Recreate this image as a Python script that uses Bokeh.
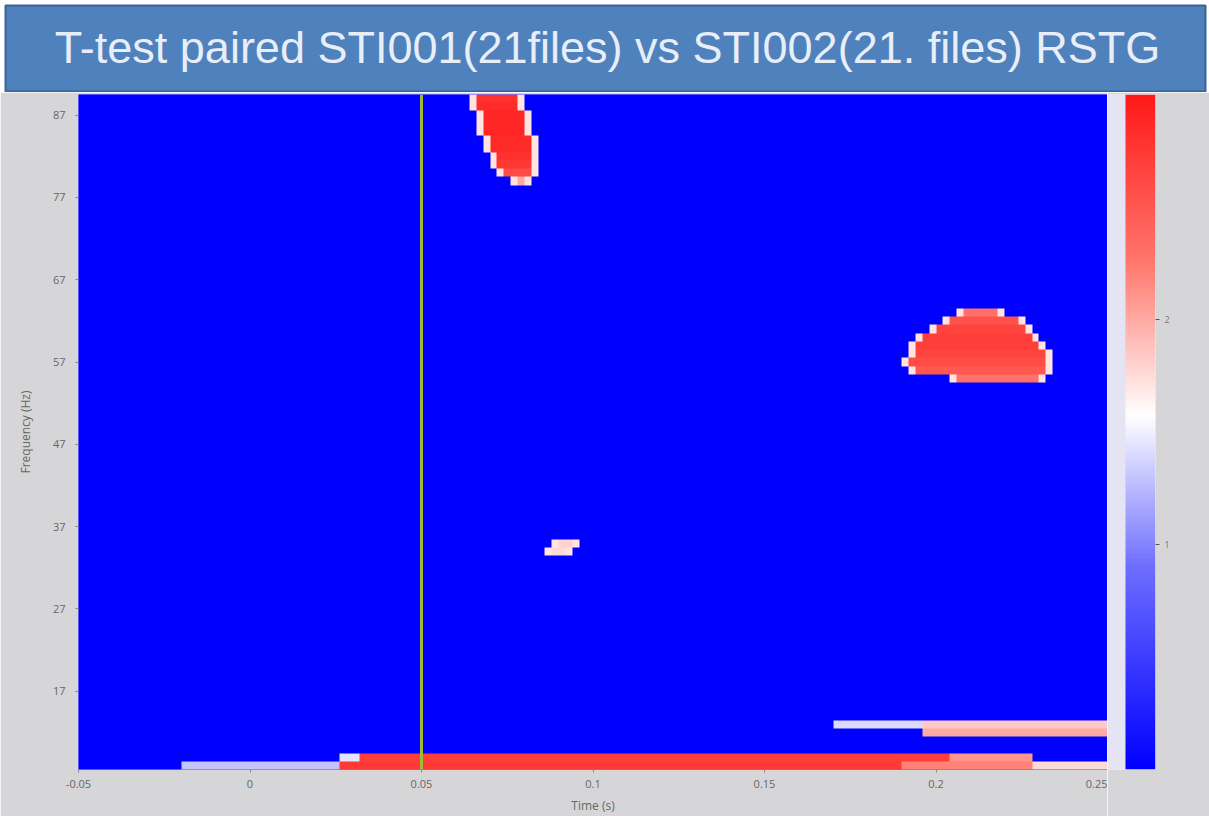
import numpy as np
from bokeh.plotting import figure
from bokeh.layouts import column, row
from bokeh.models import LinearColorMapper, FixedTicker, LinearAxis, Range1d, Span
from bokeh.embed import file_html
from bokeh.resources import INLINE
from bokeh.core.properties import value

# ---------------- data ----------------
TITLE = "T-test paired STI001(21files) vs STI002(21. files) RSTG"
X_LABEL = "Time (s)"
Y_LABEL = "Frequency (Hz)"
x_ticks = [-0.05, 0, 0.05, 0.1, 0.15, 0.2, 0.25]
x_tick_labels = ["-0.05", "0", "0.05", "0.1", "0.15", "0.2", "0.25"]
y_ticks = [17, 27, 37, 47, 57, 67, 77, 87]
cbar_ticks = [1, 2]
cbar_low, cbar_high = 0, 3
t_start, t_end, t_step = -0.05, 0.25, 0.002
f_min, f_max = 8, 89
marker_time = 0.05

# cluster near t=0.07s, high frequency
top_freq = [89, 88, 87, 86, 85, 84, 83, 82, 81, 80, 79]
top_start = [0.0648, 0.0650, 0.0660, 0.0666, 0.0670, 0.0680, 0.0690, 0.0700, 0.0710, 0.0730, 0.0756]
top_end = [0.0802, 0.0810, 0.0820, 0.0826, 0.0830, 0.0834, 0.0837, 0.0840, 0.0840, 0.0834, 0.0814]
top_core = [2.8, 2.85, 2.9, 2.9, 2.9, 2.85, 2.85, 2.8, 2.75, 2.6, 2.0]

# cluster near t=0.21s, ~58 Hz
right_freq = [63, 62, 61, 60, 59, 58, 57, 56, 55]
right_start = [0.207, 0.2015, 0.198, 0.1948, 0.1927, 0.1913, 0.191, 0.1919, 0.204]
right_end = [0.221, 0.2253, 0.228, 0.2302, 0.232, 0.2331, 0.2331, 0.2331, 0.232]
right_core = [2.3, 2.55, 2.65, 2.7, 2.7, 2.65, 2.6, 2.5, 2.3]

# small cluster near t=0.09s, 35 Hz
small_freq = [35, 34]
small_start = [0.088, 0.0866]
small_end = [0.096, 0.094]
small_core = [1.8, 1.75]

fringe_value = 1.7

# low-frequency streaks
streak_freq = [13, 13, 12, 9, 9, 9, 8, 8, 8, 8]
streak_start = [0.171, 0.1956, 0.1956, 0.026, 0.032, 0.205, -0.0203, 0.026, 0.190, 0.228]
streak_end = [0.1956, 0.25, 0.25, 0.032, 0.205, 0.228, 0.026, 0.190, 0.228, 0.25]
streak_value = [1.4, 1.85, 2.0, 1.45, 2.7, 2.1, 1.3, 2.75, 2.2, 1.75]

# ---------------- build the t-map ----------------
times = np.arange(t_start + t_step / 2, t_end, t_step)
freqs = np.arange(f_min, f_max + 1)
Z = np.zeros((len(freqs), len(times)))


def paint(fr, ts, te, v):
    cols = (times >= ts) & (times <= te)
    Z[fr - f_min, cols] = v


for fl, sl, el, cl in [(top_freq, top_start, top_end, top_core),
                       (right_freq, right_start, right_end, right_core),
                       (small_freq, small_start, small_end, small_core)]:
    for fr, ts, te, cv in zip(fl, sl, el, cl):
        paint(fr, ts, te, fringe_value)
        paint(fr, ts + t_step, te - t_step, cv)

for fr, ts, te, v in zip(streak_freq, streak_start, streak_end, streak_value):
    paint(fr, ts, te, v)

# blue - white - red palette
anchors = [(0.0, (0, 0, 255)), (0.3, (110, 110, 255)), (0.524, (255, 255, 255)),
           (0.75, (255, 120, 110)), (1.0, (255, 25, 25))]
palette = []
for i in range(256):
    s = i / 255
    for (a0, c0), (a1, c1) in zip(anchors[:-1], anchors[1:]):
        if a0 <= s <= a1:
            w = (s - a0) / (a1 - a0)
            c = [int(round(c0[k] + (c1[k] - c0[k]) * w)) for k in range(3)]
            palette.append("#%02x%02x%02x" % tuple(c))
            break
mapper = LinearColorMapper(palette=palette, low=cbar_low, high=cbar_high)

BG = "#d6d6d8"

# ---------------- banner ----------------
banner = figure(width=1209, height=92, x_range=Range1d(0, 1209), y_range=Range1d(0, 92),
                output_backend="svg", toolbar_location=None, min_border=0)
banner.axis.visible = False
banner.grid.visible = False
banner.outline_line_color = None
banner.background_fill_color = "white"
banner.border_fill_color = "white"
banner.quad(left=[5], right=[1205], bottom=[1], top=[87], fill_color="#4f81bd",
            line_color="#3b6494", line_width=2)
banner.text(x=[607], y=[45], text=[TITLE], text_align="center", text_baseline="middle",
            text_color="#e8eef8", text_font=value("Liberation Sans"),
            text_font_size="45px")

# ---------------- main map ----------------
p = figure(width=1107, height=724, x_range=Range1d(t_start, t_end),
           y_range=Range1d(f_min - 0.5, f_max + 0.5),
           output_backend="svg", toolbar_location=None,
           min_border_left=78, min_border_right=0, min_border_top=0, min_border_bottom=43)
p.image(image=[Z], x=t_start, y=f_min - 0.5, dw=t_end - t_start, dh=f_max - f_min + 1,
        color_mapper=mapper)
p.add_layout(Span(location=marker_time, dimension="height", line_color="#9cbb3a", line_width=3))
p.grid.visible = False
p.outline_line_color = None
p.background_fill_color = "#0000ff"
p.border_fill_color = BG
p.xaxis.ticker = FixedTicker(ticks=x_ticks)
p.xaxis.major_label_overrides = {t: l for t, l in zip(x_ticks, x_tick_labels)}
p.yaxis.ticker = FixedTicker(ticks=y_ticks)
p.xaxis.axis_label = X_LABEL
p.yaxis.axis_label = Y_LABEL
for ax in (p.xaxis, p.yaxis):
    ax.axis_line_color = None
    ax.major_tick_line_color = "#888888"
    ax.major_tick_out = 3
    ax.major_tick_in = 0
    ax.minor_tick_line_color = None
    ax.major_label_text_font = "Open Sans"
    ax.major_label_text_font_size = "11px"
    ax.major_label_text_color = "#666666"
    ax.axis_label_text_font = "Open Sans"
    ax.axis_label_text_font_size = "12px"
    ax.axis_label_text_font_style = "normal"
    ax.axis_label_text_color = "#666666"
p.xaxis.major_label_standoff = 7
p.xaxis.axis_label_standoff = 6
p.yaxis.major_label_standoff = 10
p.yaxis.axis_label_standoff = 16

# ---------------- colour bar ----------------
cb = figure(width=102, height=724, x_range=Range1d(0, 48), y_range=Range1d(cbar_low, cbar_high),
            output_backend="svg", toolbar_location=None,
            min_border_left=0, min_border_right=54, min_border_top=2, min_border_bottom=43,
            y_axis_location=None)
grad = np.linspace(cbar_low, cbar_high, 256).reshape(256, 1)
cb.image(image=[grad], x=18, y=cbar_low, dw=30, dh=cbar_high - cbar_low, color_mapper=mapper)
cb.xaxis.visible = False
cb.grid.visible = False
cb.outline_line_color = None
cb.background_fill_color = "#e4e4f4"
cb.border_fill_color = BG
cax = LinearAxis(ticker=FixedTicker(ticks=cbar_ticks))
cax.axis_line_color = None
cax.major_tick_line_color = "#555555"
cax.major_tick_out = 4
cax.major_tick_in = 0
cax.minor_tick_line_color = None
cax.major_label_text_font = "Open Sans"
cax.major_label_text_font_size = "9px"
cax.major_label_text_color = "#777777"
cb.add_layout(cax, "right")

layout = column(banner, row(p, cb))
open("out.html", "w").write(file_html(layout, INLINE))
